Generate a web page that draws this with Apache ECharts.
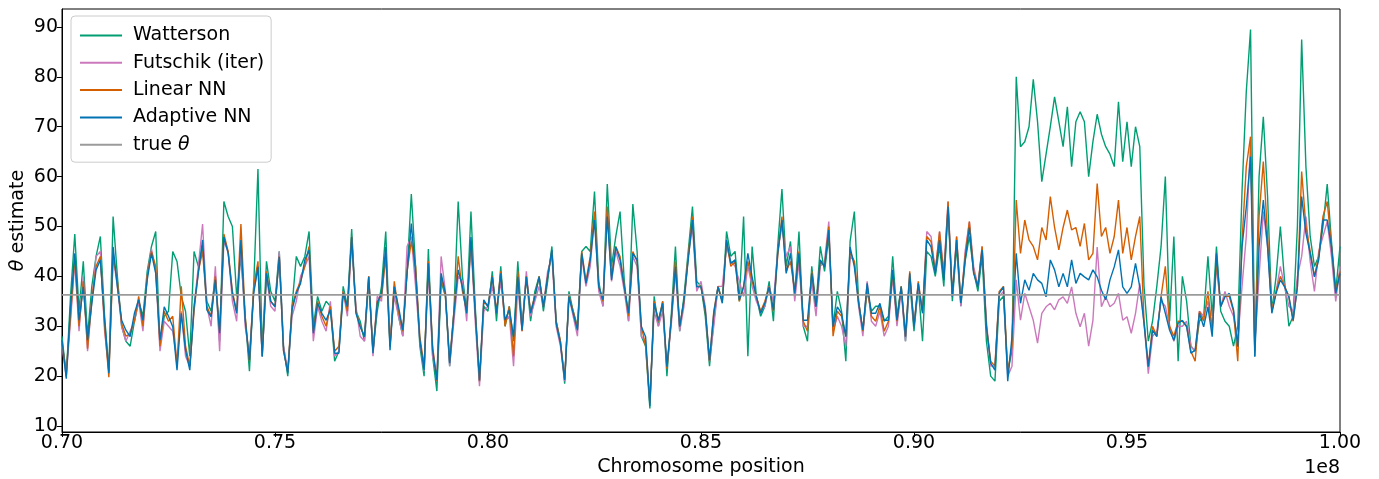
<!DOCTYPE html>
<html><head><meta charset="utf-8">
<script src="https://cdn.jsdelivr.net/npm/echarts@6/dist/echarts.min.js"></script>
<style>html,body{margin:0;padding:0;background:#fff}#c{width:1379px;height:479px}</style>
</head><body><div id="c"></div>
<script>
// sample positions: start + i * step (one sample per 0.1 Mb)
const startPos = 70000000, stepPos = 100000;
const seriesNames = ['Watterson', 'Futschik (iter)', 'Linear NN', 'Adaptive NN', 'true θ'];
const xTickValues = [70000000, 75000000, 80000000, 85000000, 90000000, 95000000, 100000000];
const yTickValues = [10, 20, 30, 40, 50, 60, 70, 80, 90];
const trueTheta = 36.3;

const watterson = [
28,20,36,48.5,33,43,28,38,44,48,
32,21,52,40,30,27,26,31,35,32,
41,46,49,26,32,33,45,43,36,33,
24,45,42,46,35,33,40,27,55,52,
50,36,44,32,21,38,61.5,25,43,37,
35,45,26,20,34,44,42,44,49,30,
36,33,35,34,23,25,38,34,49.5,33,
31,27,39,25,33,38,49,26,38,32,
28,41,56.5,42,26,20,45.5,24,17,39,
36,22,33,55,40,33,53,34,19,34,
33,41,31,42,30,34,27,43,30,40,
31,37,40,33,39,46,31,27,18.5,37,
33,30,45,46,45,57,39,34,58.5,42,
48,53,39,31,54.5,45,28,26,13.5,36,
30,35,20,32,46,29,36,45,54,39,
38,32,22,31,38,35,49,44,45,35,
52,24,46,36,32,34,39,31,46,57.5,
42,47,36,49,30,27,42,34,46,41,
48,30,37,33,23,47,53,35,29,37,
33,34,34,31,32,44,32,38,27,39,
29,38,27,45,44,40,46,38,53.5,35,
46,34,43,48,41,37,44,27,20,19,
35,36,21,25,80,66,67,70,79.5,71,
59,64.5,70,76,71,66,74,62,71,73,
71,60,67,72.5,68.5,66,64.5,62,75,63,
71,62,70,66,38,27,31,38,46,60,
31,48,23,40,35,26,25,31,32,44,
32,46,33,31,30,26,30,57,77,89.5,
24,60,72,56,33,40,50,39,30,32,
50,87.5,62,48,42,44,50,58.5,47,37,
46];

const futschik = [
26,20,31,43,29,40,25,35,44,45,
29,21,44,38,30,27,29,31,35,29,
40,45.5,41,25,31,30,29,23,33,24,
22,34,42,50.5,34,30,42,25,47,45,
35,31,46,30,24,37,42,24,40,34,
33,45,26,21,32,35,40,42,44,27,
34,31,29,35,24,25,37,32,47,34,
28,27,40,24,36,35,45,27,36,32,
28,46,48,38,27,21,41,24,20,44,
37,22,31,40,39,31,47,31,18,33,
34,38,33,39,31,32,22,38,29,41,
32,35,38,34,41,44,30,26,19,36,
32,28,44,38,42,52,37,34,53,39,
45,42,37,31,44,42,28,27,15,33,
30,33,22,30,41,29,34,44,50,37,
39,34,23,30,38,38,46,43,42,39,
36,42,38,35,33,34,38,35,45,50,
44,46,35,43,30,30,39,32,42,43,
51,29,32,30,26,44,43,34,28,39,
31,30,33,28,30,40,30,37,27,40,
30,38,33,49,48,41,49,41,55,36,
48,34,45,51,42,38,46,31,22,22,
36,37,20,22,39.3,31.2,36.6,33.9,31.2,26.6,
32.6,33.9,34.6,33.3,35.3,35.9,34.6,37.9,32.6,29.9,
32.6,26,31.2,45.9,33.9,35.9,33.9,34.6,36.6,31.2,
31.9,28.6,32.6,38.6,30.6,20.5,28,29,35,34,
30,27,30,30,31,26,25,33,32,35,
30,42,34,37,34,32,27,38,48,67,
26,40,53,46,33,37,42,38,34,33,
40,44,52,43,37,45,48,51,44,35,
42];

const linearNN = [
26.5,21,32,44,30,39,25.5,35.5,42,44,
30,19.8,44,39,30.5,28,28.5,31,36,30,
40,45,42,26,33,31,32,22,38,26,
22,33,41,45,34,32,40,29,48.5,45,
37,33,50.5,32,23,38,43,24,41,35,
34,44,25,21,34,37,39,42,46,29,
35,32,30,34,25,26,37,33,48,33,
30,28,40,25,35,36,44,26,39,33,
29,41,47,42,28,22,43,26,19,40,
36,23,33,44,37,33,47,33,19,35,
34,40,33,41,30,34,24,41,29,40,
33,36,40,34,40,45,31,27,19.5,36,
33,29.5,45,39,44,53,38,35,54,40,
46,44,38,32,45,43,30,26,14.5,35,
31,35,21.5,31,43,30,35,44,52,38,
38,33,23,33,38,35,47,42,43,35,
38,43,39,36,33,35,38,33,44,52,
41,43,37,45,31,29,41,34,43,42,
50,28,33,32,28,45,43,35,29,38,
32,31,34,29,31,41,31,38,28,41,
30,39,33,48,47,41,49,40,55,36,
48,35,44,51,41,38,46,30,23,22,
37,38,21,26,55.3,44.6,51.3,47.3,46,43.3,
49.8,47.3,56,49.8,45.3,49.8,53.3,49.3,49.8,46,
50.6,43.3,44.6,58.6,48,49.8,44.6,48,55.3,44.6,
49.8,43.3,48,52,31,22,30,28,36,42,
30,28,31,31,30,25,23,33,31,37,
29,43,34,36,36,33,23,47,62,68,
25,52,63,48,33,37,40,38,36,31,
38,61,50,45,40,44,52,55,46,37,
41];

const adaptiveNN = [
27.2,19.5,33.9,44.6,31.2,37.9,27.2,34.6,41.3,43.3,
31.2,20.6,45.9,37.9,31.2,29.2,27.9,32.6,35.3,31.2,
39.3,44.6,40.6,27.2,33.9,32.0,29.9,21.2,32.6,25.2,
21.2,33.9,40.6,47.3,33.3,31.9,39.3,28.6,47.9,44.6,
36.6,32.6,47.3,31.2,23.2,36.6,41.9,23.9,40.6,35.0,
33.9,43.9,25.2,20.6,33.3,36.6,38.6,43.3,45.3,28.6,
34.6,32.6,31.2,33.3,24.6,24.6,36.6,33.9,47.9,32.6,
29.9,27.9,39.9,24.6,34.6,36.6,45.9,25.2,37.9,33.9,
29.2,40.6,50.6,40.6,27.2,21.2,42.6,25.2,19.2,40.6,
36.6,22.6,32.6,41.3,37.9,32.6,47.9,32.6,19.2,35.3,
33.9,39.9,32.6,40.6,31.2,33.3,27.9,39.9,29.2,39.9,
32.6,35.9,39.9,33.9,39.9,45.3,30.6,26.6,19.2,35.9,
32.6,29.2,44.6,38.6,43.3,51.3,37.9,35.3,52.0,39.3,
45.9,43.3,37.9,32.6,44.6,43.3,29.9,27.9,14.0,34.6,
31.2,34.6,21.9,31.2,41.9,29.9,35.3,43.3,51.3,37.9,
37.9,33.3,23.2,32.6,37.9,34.6,47.3,42.6,43.3,35.3,
37.9,44.6,39.9,35.9,32.6,34.6,37.9,33.3,44.6,51.3,
40.6,44.6,36.6,44.6,31.2,31.2,40.6,33.9,43.3,41.9,
49.3,29.9,33.9,32.6,27.9,45.9,41.9,34.6,29.2,38.6,
32.6,32.6,34.6,31.2,31.2,41.3,31.2,37.9,27.9,40.6,
29.9,38.6,32.6,47.3,45.9,40.6,47.3,39.3,54.0,35.9,
47.3,34.6,43.3,49.8,40.6,37.9,45.3,29.9,22.6,21.2,
36.6,37.9,19.0,27.9,44.6,34.6,39.3,37.2,40.6,39.3,
38.6,35.9,43.3,41.3,37.9,40.6,37.9,43.3,38.6,40.6,
39.9,39.3,41.3,39.9,37.2,35.3,39.3,41.9,45.3,37.9,
36.6,37.9,42.6,37.9,30.6,21.9,29.2,27.9,35.9,32.6,
29.2,27.2,30.6,31.2,29.9,24.6,25.2,32.6,29.9,33.9,
27.9,44.6,33.9,35.9,36.6,33.3,25.9,45.9,53.9,64.0,
23.9,45.9,55.3,45.9,32.6,36.6,39.3,37.9,35.9,31.2,
37.9,56.0,48.6,44.6,39.9,43.3,51.3,51.3,45.9,36.6,
40.6];

function toPairs(arr) { return arr.map((v, i) => [startPos + i * stepPos, v]); }

const colors = ['#029e73', '#cc78bc', '#d55e00', '#0173b2', '#9b9b9b'];
const FONT = 'DejaVu Sans';
const FS = 19;

const chart = echarts.init(document.getElementById('c'), null, {renderer: 'canvas'});
const lineSeries = [watterson, futschik, linearNN, adaptiveNN].map((arr, k) => ({
  name: seriesNames[k], type: 'line', data: toPairs(arr), showSymbol: false, symbol: 'none',
  lineStyle: {width: 1.4, color: colors[k]}, itemStyle: {color: colors[k]}, z: 2 + k, animation: false
}));
lineSeries.push({
  name: seriesNames[4], type: 'line', showSymbol: false, symbol: 'none',
  data: [[xTickValues[0], trueTheta], [xTickValues[xTickValues.length - 1], trueTheta]],
  lineStyle: {width: 1.8, color: colors[4]}, itemStyle: {color: colors[4]}, z: 10, animation: false
});

chart.setOption({
  animation: false,
  backgroundColor: '#fff',
  textStyle: {fontFamily: FONT},
  grid: {left: 62, right: 39, top: 9, bottom: 47, show: true, borderColor: '#000', borderWidth: 1,
    containLabel: false, outerBoundsMode: 'none'},
  legend: {
    data: seriesNames, orient: 'vertical', left: 71, top: 16,
    icon: 'rect', itemWidth: 42, itemHeight: 2, itemGap: 8.3,
    padding: [10, 7, 8, 9],
    backgroundColor: 'rgba(255,255,255,0.8)', borderColor: '#cccccc', borderWidth: 1, borderRadius: 4,
    textStyle: {fontSize: FS, color: '#000', fontFamily: FONT, padding: [0, 0, 0, 6], lineHeight: 19,
      rich: {n: {fontSize: FS, fontFamily: FONT, color: '#000'}, i: {fontSize: FS, fontFamily: FONT, fontStyle: 'italic', color: '#000'}}},
    formatter: name => name === 'true θ' ? '{n|true }{i|θ}' : name
  },
  xAxis: {
    type: 'value', min: xTickValues[0], max: xTickValues[xTickValues.length - 1], interval: 5000000,
    name: 'Chromosome position', nameLocation: 'middle', nameGap: 26, nameMoveOverlap: false,
    nameTextStyle: {fontSize: FS, color: '#000', fontFamily: FONT, verticalAlign: 'top'},
    axisLine: {show: true, lineStyle: {color: '#000', width: 1}},
    axisTick: {show: true, length: 5, lineStyle: {color: '#000'}},
    axisLabel: {fontSize: FS, color: '#000', margin: 2, fontFamily: FONT, formatter: v => (v / 1e8).toFixed(2)},
    splitLine: {show: false}
  },
  yAxis: {
    type: 'value', min: 8.8, max: 93.6,
    name: '{i|θ} estimate', nameLocation: 'middle', nameGap: 34, nameMoveOverlap: false,
    nameTextStyle: {fontSize: FS, color: '#000', fontFamily: FONT,
      rich: {i: {fontSize: FS, fontStyle: 'italic', fontFamily: FONT, color: '#000'}}},
    axisLine: {show: true, lineStyle: {color: '#000', width: 1}},
    axisTick: {show: true, length: 5, lineStyle: {color: '#000'}, customValues: yTickValues},
    axisLabel: {fontSize: FS, color: '#000', margin: 4, fontFamily: FONT, customValues: yTickValues},
    splitLine: {show: false}
  },
  graphic: [{type: 'text', right: 39, top: 459, style: {text: '1e8', fontSize: FS, fill: '#000', fontFamily: FONT}}],
  series: lineSeries
});
</script></body></html>
